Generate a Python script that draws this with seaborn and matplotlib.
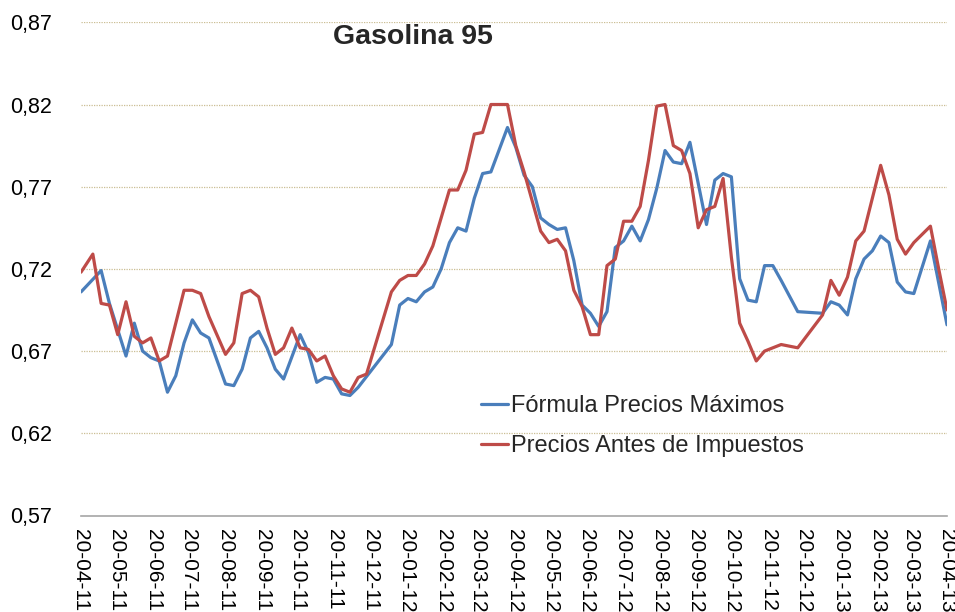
import matplotlib
matplotlib.use("Agg")
import matplotlib.pyplot as plt
from matplotlib.ticker import FuncFormatter
from matplotlib.lines import Line2D
import seaborn as sns
import pandas as pd

# ---------------- data ----------------
series_names = ["Fórmula Precios Máximos", "Precios Antes de Impuestos"]
title_text = "Gasolina 95"

formula_dates = [
    "2011-04-20", "2011-05-07", "2011-05-14", "2011-05-28", "2011-06-04", "2011-06-11",
    "2011-06-18", "2011-06-25", "2011-07-02", "2011-07-09", "2011-07-16", "2011-07-23",
    "2011-07-30", "2011-08-06", "2011-08-20", "2011-08-27", "2011-09-03", "2011-09-10",
    "2011-09-17", "2011-09-24", "2011-10-01", "2011-10-08", "2011-10-22", "2011-10-29",
    "2011-11-05", "2011-11-12", "2011-11-19", "2011-11-26", "2011-12-03", "2011-12-10",
    "2012-01-07", "2012-01-14", "2012-01-21", "2012-01-28", "2012-02-04", "2012-02-11",
    "2012-02-18", "2012-02-25", "2012-03-03", "2012-03-10", "2012-03-17", "2012-03-24",
    "2012-03-31", "2012-04-14", "2012-04-21", "2012-04-28", "2012-05-05", "2012-05-12",
    "2012-05-19", "2012-05-26", "2012-06-02", "2012-06-09", "2012-06-16", "2012-06-23",
    "2012-06-30", "2012-07-07", "2012-07-14", "2012-07-21", "2012-07-28", "2012-08-04",
    "2012-08-11", "2012-08-18", "2012-08-25", "2012-09-01", "2012-09-08", "2012-09-15",
    "2012-09-22", "2012-09-29", "2012-10-06", "2012-10-13", "2012-10-20", "2012-10-27",
    "2012-11-03", "2012-11-10", "2012-11-17", "2012-11-24", "2012-12-01", "2012-12-15",
    "2013-01-05", "2013-01-12", "2013-01-19", "2013-01-26", "2013-02-02", "2013-02-09",
    "2013-02-16", "2013-02-23", "2013-03-02", "2013-03-09", "2013-03-16", "2013-03-23",
    "2013-04-06", "2013-04-20",
]
formula_values = [
    0.706, 0.719, 0.699, 0.667, 0.687, 0.670,
    0.666, 0.664, 0.645, 0.655, 0.675, 0.689,
    0.681, 0.678, 0.650, 0.649, 0.659, 0.678,
    0.682, 0.672, 0.659, 0.653, 0.680, 0.669,
    0.651, 0.654, 0.653, 0.644, 0.643, 0.648,
    0.674, 0.698, 0.702, 0.700, 0.706, 0.709,
    0.720, 0.736, 0.745, 0.743, 0.763, 0.778,
    0.779, 0.806, 0.794, 0.777, 0.770, 0.751,
    0.747, 0.744, 0.745, 0.725, 0.698, 0.693,
    0.685, 0.694, 0.733, 0.737, 0.746, 0.737,
    0.750, 0.769, 0.792, 0.785, 0.784, 0.797,
    0.772, 0.747, 0.774, 0.778, 0.776, 0.714,
    0.701, 0.700, 0.722, 0.722, 0.713, 0.694,
    0.693, 0.700, 0.698, 0.692, 0.714, 0.726,
    0.731, 0.740, 0.736, 0.712, 0.706, 0.705,
    0.737, 0.686,
]

antes_dates = [
    "2011-04-20", "2011-04-30", "2011-05-07", "2011-05-14", "2011-05-21", "2011-05-28",
    "2011-06-04", "2011-06-11", "2011-06-18", "2011-06-25", "2011-07-02", "2011-07-16",
    "2011-07-23", "2011-07-30", "2011-08-06", "2011-08-20", "2011-08-27", "2011-09-03",
    "2011-09-10", "2011-09-17", "2011-09-24", "2011-10-01", "2011-10-08", "2011-10-15",
    "2011-10-22", "2011-10-29", "2011-11-05", "2011-11-12", "2011-11-19", "2011-11-26",
    "2011-12-03", "2011-12-10", "2011-12-17", "2012-01-07", "2012-01-14", "2012-01-21",
    "2012-01-28", "2012-02-04", "2012-02-11", "2012-02-18", "2012-02-25", "2012-03-03",
    "2012-03-10", "2012-03-17", "2012-03-24", "2012-03-31", "2012-04-14", "2012-04-21",
    "2012-04-28", "2012-05-12", "2012-05-19", "2012-05-26", "2012-06-02", "2012-06-09",
    "2012-06-16", "2012-06-23", "2012-06-30", "2012-07-07", "2012-07-14", "2012-07-21",
    "2012-07-28", "2012-08-04", "2012-08-11", "2012-08-18", "2012-08-25", "2012-09-01",
    "2012-09-08", "2012-09-15", "2012-09-22", "2012-09-29", "2012-10-06", "2012-10-13",
    "2012-10-20", "2012-10-27", "2012-11-03", "2012-11-10", "2012-11-17", "2012-11-24",
    "2012-12-01", "2012-12-08", "2012-12-15", "2013-01-05", "2013-01-12", "2013-01-19",
    "2013-01-26", "2013-02-02", "2013-02-09", "2013-02-16", "2013-02-23", "2013-03-02",
    "2013-03-09", "2013-03-16", "2013-03-23", "2013-03-30", "2013-04-06", "2013-04-13",
    "2013-04-20",
]
antes_values = [
    0.718, 0.729, 0.699, 0.698, 0.680, 0.700,
    0.679, 0.675, 0.678, 0.664, 0.667, 0.707,
    0.707, 0.705, 0.691, 0.668, 0.675, 0.705,
    0.707, 0.703, 0.684, 0.668, 0.672, 0.684,
    0.672, 0.671, 0.664, 0.667, 0.655, 0.647,
    0.645, 0.654, 0.656, 0.706, 0.713, 0.716,
    0.716, 0.723, 0.734, 0.751, 0.768, 0.768,
    0.780, 0.802, 0.803, 0.820, 0.820, 0.795,
    0.779, 0.743, 0.736, 0.738, 0.731, 0.707,
    0.697, 0.680, 0.680, 0.722, 0.726, 0.749,
    0.749, 0.758, 0.786, 0.819, 0.820, 0.795,
    0.792, 0.778, 0.745, 0.756, 0.758, 0.775,
    0.727, 0.687, 0.676, 0.664, 0.670, 0.672,
    0.674, 0.673, 0.672, 0.692, 0.713, 0.704,
    0.715, 0.737, 0.743, 0.763, 0.783, 0.765,
    0.738, 0.729, 0.736, 0.741, 0.746, 0.720,
    0.695,
]

x_start, x_end = "2011-04-20", "2013-04-20"
y_ticks = [0.57, 0.62, 0.67, 0.72, 0.77, 0.82, 0.87]

# ---------------- build long table ----------------
df = pd.concat([
    pd.DataFrame({"fecha": pd.to_datetime(formula_dates), "valor": formula_values,
                  "serie": series_names[0]}),
    pd.DataFrame({"fecha": pd.to_datetime(antes_dates), "valor": antes_values,
                  "serie": series_names[1]}),
], ignore_index=True)

colors = {series_names[0]: "#4A7EBB", series_names[1]: "#BE4B48"}

sns.set_theme(style="white")
plt.rcParams["font.family"] = ["Liberation Sans", "DejaVu Sans"]

fig = plt.figure(figsize=(9.55, 6.12), dpi=100)
ax = fig.add_axes([81 / 955, 1 - 515.5 / 612, (947 - 81) / 955, (515.5 - 22.3) / 612])

sns.lineplot(data=df, x="fecha", y="valor", hue="serie", palette=colors,
             estimator=None, sort=True, linewidth=2.3, legend=False, ax=ax)

ax.set_xlim(pd.Timestamp(x_start), pd.Timestamp(x_end))
ax.set_ylim(y_ticks[0], y_ticks[-1])
ax.set_yticks(y_ticks)
ax.yaxis.set_major_formatter(FuncFormatter(lambda v, p: f"{v:.2f}".replace(".", ",")))

month_ticks = pd.date_range(x_start, x_end, freq=pd.DateOffset(months=1))
ax.set_xticks(month_ticks)
ax.set_xticklabels([d.strftime("%d-%m-%y") for d in month_ticks], rotation=270,
                   fontsize=15, va="top", ha="center")
ax.set_xlabel("")
ax.set_ylabel("")

for s in ["left", "top", "right"]:
    ax.spines[s].set_visible(False)
ax.spines["bottom"].set_color("#A6A6A6")
ax.spines["bottom"].set_linewidth(1.2)
ax.tick_params(axis="x", direction="out", length=5, width=1, color="#A6A6A6",
               pad=5, labelcolor="black")
ax.tick_params(axis="y", length=0, pad=21, labelsize=15.5, labelcolor="black")

for yv in y_ticks[1:]:
    ax.axhline(yv, color="#CBBE94", linewidth=0.9, linestyle=(0, (1, 1)), zorder=0)
ax.grid(False)

fig.text(413 / 955, 1 - 37 / 612, title_text, fontsize=20.5, fontweight="bold",
         ha="center", va="center")

handles = [Line2D([0], [0], color=colors[n], linewidth=2.3) for n in series_names]
leg = ax.legend(handles, series_names, loc="upper left",
                bbox_to_anchor=(481 / 955, 1 - 395 / 612), bbox_transform=fig.transFigure,
                frameon=False, fontsize=17, handlelength=1.15, handletextpad=0.13,
                labelspacing=0.76, borderpad=0, borderaxespad=0)

fig.savefig("out.png", dpi=100)
